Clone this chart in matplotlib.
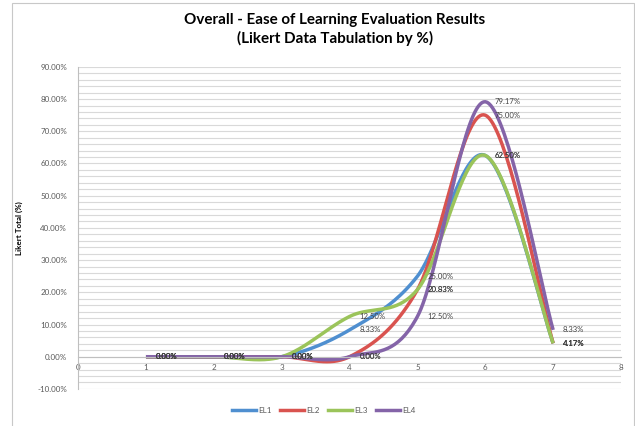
import matplotlib.pyplot as plt
import numpy as np
from matplotlib.lines import Line2D
from matplotlib.patches import Rectangle
from matplotlib.ticker import FuncFormatter, MultipleLocator

plt.rcParams['font.family'] = ['Lato', 'DejaVu Sans']

scale_points = [1, 2, 3, 4, 5, 6, 7]
series_names = ['EL1', 'EL2', 'EL3', 'EL4']
el1 = [0.0, 0.0, 0.0, 8.33, 25.00, 62.50, 4.17]
el2 = [0.0, 0.0, 0.0, 0.0, 20.83, 75.00, 4.17]
el3 = [0.0, 0.0, 0.0, 12.50, 20.83, 62.50, 4.17]
el4 = [0.0, 0.0, 0.0, 0.0, 12.50, 79.17, 8.33]
colors = ['#4F8FD0', '#D9534F', '#9BC45A', '#8464A8']


def smooth(xs, ys, steps=40):
    # catmull-rom style bezier through every point, like a spreadsheet "smoothed line"
    pts = np.column_stack([xs, ys]).astype(float)
    n = len(pts)
    out = []
    for i in range(n - 1):
        p0 = pts[max(i - 1, 0)]
        p1 = pts[i]
        p2 = pts[i + 1]
        p3 = pts[min(i + 2, n - 1)]
        c1 = p1 + (p2 - p0) / 6.0
        c2 = p2 - (p3 - p1) / 6.0
        t = np.linspace(0, 1, steps)[:, None]
        seg = ((1 - t) ** 3) * p1 + 3 * ((1 - t) ** 2) * t * c1 + 3 * (1 - t) * t ** 2 * c2 + t ** 3 * p2
        out.append(seg if i == 0 else seg[1:])
    out = np.vstack(out)
    return out[:, 0], out[:, 1]


fig = plt.figure(figsize=(6.35, 4.26), dpi=100)
ax = fig.add_axes([0.123, 0.087, 0.855, 0.756])

for name, vals, col in zip(series_names, [el1, el2, el3, el4], colors):
    sx, sy = smooth(scale_points, vals)
    ax.plot(sx, sy, color=col, lw=2.5, solid_capstyle='butt', label=name)

# data labels sit just right of each point
for vals in [el1, el2, el3, el4]:
    for x, y in zip(scale_points, vals):
        ax.annotate(f'{y:.2f}%', (x, y), xytext=(7, 0), textcoords='offset points',
                    ha='left', va='center', fontsize=5.6, color='#404040')

ax.set_xlim(0, 8)
ax.set_ylim(-10, 90)
ax.yaxis.set_major_locator(MultipleLocator(10))
ax.yaxis.set_minor_locator(MultipleLocator(2))
ax.yaxis.set_major_formatter(FuncFormatter(lambda v, p: f'{v:.2f}%'))
ax.xaxis.set_major_locator(MultipleLocator(1))
ax.grid(True, which='both', axis='y', color='#D9D9D9', lw=0.8)
ax.set_axisbelow(True)

ax.spines['top'].set_visible(False)
ax.spines['right'].set_visible(False)
ax.spines['bottom'].set_position(('data', 0))
ax.spines['bottom'].set_color('#BFBFBF')
ax.spines['left'].set_color('#BFBFBF')
ax.tick_params(axis='both', which='both', length=0, labelsize=5.8, labelcolor='#595959')
ax.tick_params(axis='y', pad=8)
ax.tick_params(axis='x', pad=5)

ax.set_ylabel('Likert Total (%)', fontsize=5.8, fontweight='bold', labelpad=10)

fig.text(0.527, 0.93, 'Overall - Ease of Learning Evaluation Results\n(Likert Data Tabulation by %)',
         ha='center', va='center', fontsize=10.9, fontweight='bold', linespacing=1.3)

handles = [Line2D([0], [0], color=c, lw=2.5) for c in colors]
fig.legend(handles, series_names, loc='center', bbox_to_anchor=(0.51, 0.037), ncol=4,
           frameon=False, fontsize=5.8, handlelength=3, columnspacing=1.0, handletextpad=0.3,
           labelcolor='#595959')

# chart area border
fig.add_artist(Rectangle((12 / 635, -0.1), 622 / 635, 1.093, transform=fig.transFigure,
                         fill=False, edgecolor='#C8C8C8', lw=0.8))

fig.savefig('out.png', dpi=100)
